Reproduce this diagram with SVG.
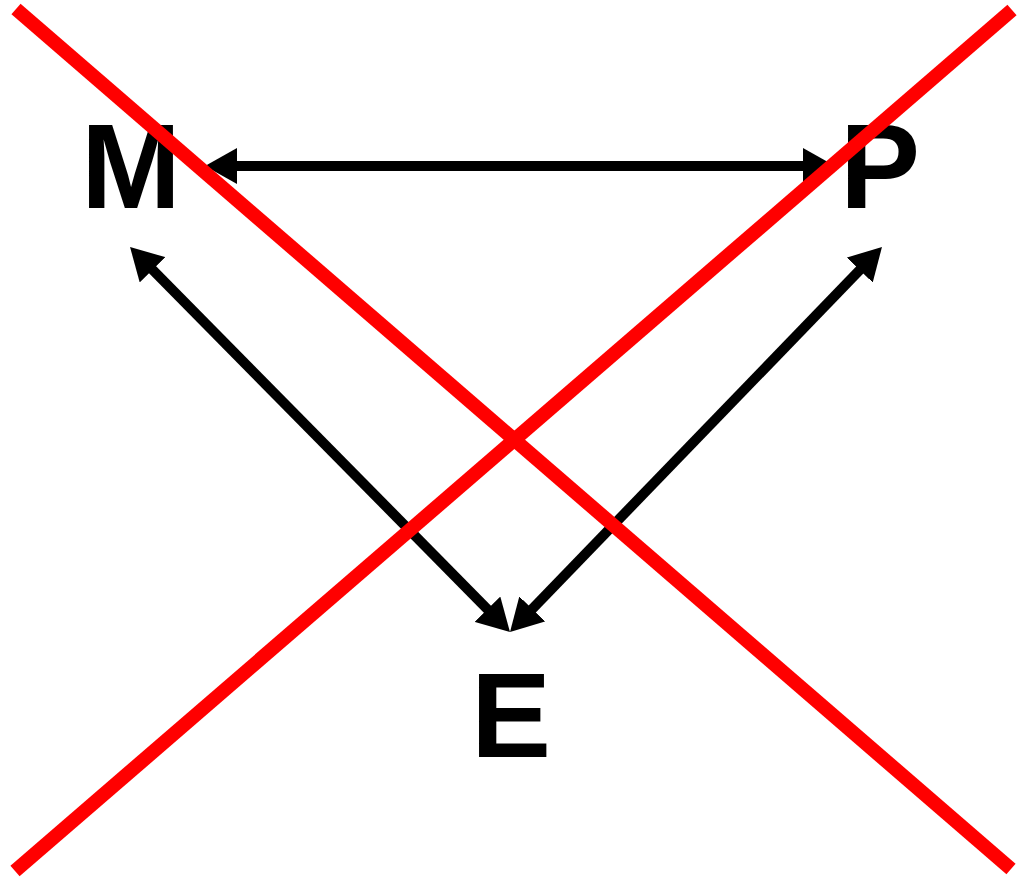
<svg xmlns="http://www.w3.org/2000/svg" width="1019" height="879" viewBox="0 0 1019 879">
  <style>
    .lbl { font-family: "Liberation Sans", Arial, sans-serif; font-weight: bold; font-size: 120px; fill: #000; }
    .conn { stroke: #000; stroke-width: 10; fill: none; }
    .cross { stroke: #ff0000; stroke-width: 14; fill: none; stroke-linecap: butt; }
  </style>
  <defs>
    <marker id="ah" viewBox="0 0 32 36" markerWidth="32" markerHeight="36" markerUnits="userSpaceOnUse" refX="8" refY="18" orient="auto-start-reverse">
      <path d="M0,0 L32,18 L0,36 z" fill="#000"/>
    </marker>
  </defs>
  <rect width="1019" height="879" fill="#fff"/>
  <g id="connectors">
    <line class="conn" x1="229" y1="166" x2="811" y2="166" marker-start="url(#ah)" marker-end="url(#ah)"/>
    <line class="conn" x1="146.9" y1="264.1" x2="493.1" y2="614.9" marker-start="url(#ah)" marker-end="url(#ah)"/>
    <line class="conn" x1="865.3" y1="264.3" x2="526.7" y2="614.7" marker-start="url(#ah)" marker-end="url(#ah)"/>
  </g>
  <g id="node-M"><text class="lbl" x="81" y="208">M</text></g>
  <g id="node-P"><text class="lbl" x="840" y="208">P</text></g>
  <g id="node-E"><text class="lbl" x="471" y="757">E</text></g>
  <g id="cross">
    <line class="cross" x1="16" y1="9" x2="1011" y2="869"/>
    <line class="cross" x1="15" y1="871" x2="1012" y2="10"/>
  </g>
</svg>
